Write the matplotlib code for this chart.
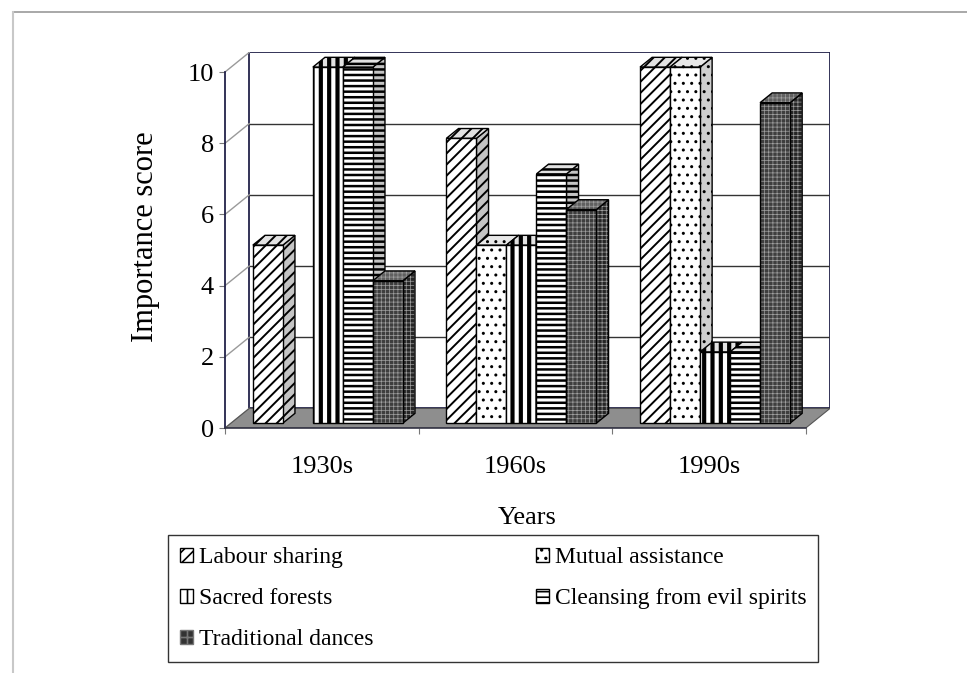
import matplotlib
matplotlib.use('Agg')
import matplotlib.pyplot as plt
from matplotlib.patches import Polygon, Patch
from matplotlib.lines import Line2D

plt.rcParams['font.family'] = ['Liberation Serif', 'DejaVu Serif']

# data
years = ['1930s', '1960s', '1990s']
series = ['Labour sharing', 'Mutual assistance', 'Sacred forests',
          'Cleansing from evil spirits', 'Traditional dances']
labour = [5, 8, 10]
mutual = [0, 5, 10]
sacred = [10, 5, 2]
cleansing = [10, 7, 2]
dances = [4, 6, 9]
yticks = [0, 2, 4, 6, 8, 10]

values = [labour, mutual, sacred, cleansing, dances]

# hatch, hatch linewidth, (front, side, top) face colours, hatch colour
styles = [
    dict(hatch='///', hlw=1.4, face=('white', '#c4c4c4', '#e2e2e2'), hc='black'),
    dict(hatch='..', hlw=1.0, face=('white', '#cfcfcf', '#e8e8e8'), hc='black'),
    dict(hatch='||', hlw=3.0, face=('white', '#c4c4c4', '#e2e2e2'), hc='black'),
    dict(hatch='---', hlw=1.8, face=('white', '#c4c4c4', '#e2e2e2'), hc='black'),
    dict(hatch='++++', hlw=0.5, face=('#3e3e3e', '#262626', '#606060'), hc='#a0a0a0'),
]

# pseudo 3d geometry (in data units)
DX, DY = 0.125, 0.55      # depth of the walls
BW = 0.155                # bar width
GAP = 0.1125              # left gap inside a category
NAVY = '#23234a'


def hatch_face(ax, pts, fc, hatch, hc, hlw, z):
    ax.add_patch(Polygon(pts, closed=True, facecolor=fc, edgecolor='none', lw=0, zorder=z))
    plt.rcParams['hatch.linewidth'] = hlw
    hp = Polygon(pts, closed=True, fill=False, hatch=hatch, edgecolor=hc, lw=0, zorder=z)
    if hasattr(hp, 'set_hatch_linewidth'):
        hp.set_hatch_linewidth(hlw)
    ax.add_patch(hp)
    ax.add_patch(Polygon(pts, closed=True, fill=False, edgecolor='black', lw=1.0, zorder=z))


fig = plt.figure(figsize=(9.67, 6.73), dpi=100)
ax = fig.add_axes([0.2327, 0.364, 0.6256, 0.5581])
ax.set_xlim(0, len(years) + DX)
ax.set_ylim(0, max(yticks) + DY)
ax.patch.set_visible(False)

ntot = len(years)
top = max(yticks)

# floor
ax.add_patch(Polygon([(0, 0), (ntot, 0), (ntot + DX, DY), (DX, DY)], closed=True,
                     facecolor='#8e8e8e', edgecolor='#555555', lw=0.8, zorder=1))
# back wall with grid
ax.add_patch(Polygon([(DX, DY), (ntot + DX, DY), (ntot + DX, top + DY), (DX, top + DY)],
                     closed=True, facecolor='white', edgecolor=NAVY, lw=1.3, zorder=0.5))
for t in yticks[1:-1]:
    ax.plot([DX, ntot + DX], [t + DY, t + DY], color='#333333', lw=1.0, zorder=0.8)
# left wall diagonals
for t in yticks:
    ax.plot([0, DX], [t, t + DY], color='#9a9a9a', lw=1.0, zorder=0.8)

# bars, drawn left to right so later faces hide earlier sides
z = 2
for g in range(len(years)):
    for i, vals in enumerate(values):
        v = vals[g]
        st = styles[i]
        if v <= 0:
            continue
        xl = g + GAP + i * BW + 0.25 * DX
        xr = xl + BW
        y0 = 0.25 * DY
        dx, dy = 0.5 * DX, 0.5 * DY
        side = [(xr, y0), (xr + dx, y0 + dy), (xr + dx, v + y0 + dy), (xr, v + y0)]
        topf = [(xl, v + y0), (xr, v + y0), (xr + dx, v + y0 + dy), (xl + dx, v + y0 + dy)]
        front = [(xl, y0), (xr, y0), (xr, v + y0), (xl, v + y0)]
        hatch_face(ax, side, st['face'][1], st['hatch'], st['hc'], st['hlw'], z)
        hatch_face(ax, topf, st['face'][2], st['hatch'], st['hc'], st['hlw'], z + 0.1)
        hatch_face(ax, front, st['face'][0], st['hatch'], st['hc'], st['hlw'], z + 0.2)
        z += 1

# axes
for s in ['top', 'right']:
    ax.spines[s].set_visible(False)
ax.spines['left'].set_bounds(0, top)
ax.spines['left'].set_color(NAVY)
ax.spines['left'].set_linewidth(1.3)
ax.spines['bottom'].set_bounds(0, ntot)
ax.spines['bottom'].set_color('#333344')
ax.spines['bottom'].set_linewidth(1.2)

ax.set_yticks(yticks)
ax.set_yticklabels([str(t) for t in yticks], fontsize=19)
ax.tick_params(axis='y', length=4, pad=4, color='#777777')

ax.set_xticks(range(ntot + 1))
ax.set_xticklabels([])
ax.set_xticks([g + 0.5 for g in range(ntot)], minor=True)
ax.set_xticklabels(years, minor=True, fontsize=19)
ax.tick_params(axis='x', which='major', length=4, color='#777777')
ax.tick_params(axis='x', which='minor', length=0, pad=20)

ax.set_xlabel('Years', fontsize=19, labelpad=21)
fig.text(145 / 967, 1 - 342 / 673, 'Importance score', rotation=90,
         ha='center', va='bottom', fontsize=22)

# legend, filled row by row like the original (matplotlib fills columns)
order = [0, 2, 4, 1, 3]
handles = []
for i in order:
    st = styles[i]
    if i == 4:
        plt.rcParams['hatch.linewidth'] = 0.4
        handles.append(Patch(facecolor='#333333', edgecolor='#777777', hatch='++',
                             lw=1.0, label=series[i]))
    else:
        plt.rcParams['hatch.linewidth'] = min(st['hlw'], 1.2)
        handles.append(Patch(facecolor=st['face'][0], edgecolor='black',
                             hatch=st['hatch'], lw=1.0, label=series[i]))
leg = fig.legend(handles=handles, ncol=2, loc='lower left', mode='expand',
                 bbox_to_anchor=(168 / 967, 1 - 662 / 673, 650 / 967, 130 / 673),
                 fontsize=17, frameon=True, fancybox=False, edgecolor='black',
                 handlelength=0.55, handleheight=0.55, handletextpad=0.25,
                 labelspacing=0.85, borderpad=0.5, borderaxespad=0)
leg.get_frame().set_linewidth(1.0)

# outer frame of the figure
fig.add_artist(Line2D([13 / 967, 1], [1 - 12 / 673, 1 - 12 / 673], color='#9a9a9a', lw=1.2))
fig.add_artist(Line2D([13 / 967, 13 / 967], [0, 1 - 12 / 673], color='#c8c8c8', lw=1.5))

fig.savefig('out.png', dpi=100)
